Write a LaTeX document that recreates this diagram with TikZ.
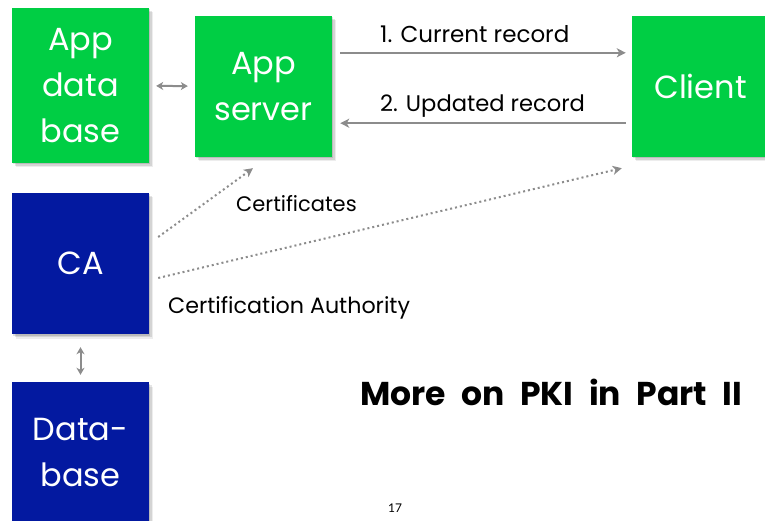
\documentclass[tikz,border=0pt]{standalone}
\usepackage{fontspec}
\setmainfont{Poppins}
\newfontfamily\gillfont{Lato}
\usetikzlibrary{arrows.meta,shadows}
\definecolor{boxgreen}{RGB}{0,206,68}
\definecolor{boxblue}{RGB}{3,25,160}
\definecolor{arrowgray}{RGB}{140,140,140}
\newcommand\mywidespace{\spaceskip=15.5pt\relax}
\tikzset{
  softshadow/.style={
    drop shadow={shadow xshift=1pt,shadow yshift=-1.5pt,fill=black,opacity=0.12},
    drop shadow={shadow xshift=2.5pt,shadow yshift=-3pt,fill=black,opacity=0.10},
    drop shadow={shadow xshift=4pt,shadow yshift=-4.5pt,fill=black,opacity=0.07}},
  box/.style={rectangle, inner sep=0pt, minimum width=137pt, text=white,
    align=center, font=\fontsize{32}{46}\selectfont, softshadow},
  gbox/.style={box, fill=boxgreen},
  bbox/.style={box, fill=boxblue},
  flow/.style={draw=arrowgray, line width=2pt, -{Stealth[length=9pt,width=9pt,inset=2.5pt]}},
  both/.style={draw=arrowgray, line width=2pt, {Stealth[length=7pt,width=8pt,inset=2pt]}-{Stealth[length=7pt,width=8pt,inset=2pt]}},
  cert/.style={draw=arrowgray, line width=2pt, dash pattern=on 2pt off 3pt, -{Stealth[length=9pt,width=9pt,inset=2.5pt]}},
  lbl/.style={inner sep=0pt, text=black, anchor=base west},
}
\begin{document}
\begin{tikzpicture}[x=1pt,y=-1pt]
\useasboundingbox (0,0) rectangle (765,521);
\fill[white] (0,0) rectangle (765,521);

\node[gbox, minimum height=155pt] (appdb) at (80.5,85.5) {App\\data\\base};
\node[gbox, minimum height=141pt] (appsrv) at (263.5,86.5) {App\\server};
\node[gbox, minimum height=141pt] (client) at (700.5,86.5) {Client};
\node[bbox, minimum height=141pt] (ca) at (80.5,263.5) {CA};
\node[bbox, minimum height=141pt] (db) at (80.5,452.5) {Data-\\base};

\draw[both, shorten <=7pt, shorten >=7pt] (appdb) -- (appsrv);
\draw[both, shorten <=13pt, shorten >=7pt] (ca) -- (db);

\draw[flow] ([yshift=-37pt,xshift=8pt]appsrv.north east) -- ([yshift=-37pt,xshift=-6pt]client.north west);
\draw[flow] ([yshift=34pt,xshift=-6pt]client.south west) -- ([yshift=34pt,xshift=8pt]appsrv.south east);

\draw[cert] ([shift={(9,-26.5)}]ca.east) -- ([shift={(-10.5,11)}]appsrv.south);
\draw[cert] ([shift={(9,14.5)}]ca.east) -- ([shift={(-10,11)}]client.south west);

\node[lbl, font=\fontsize{23}{27}\selectfont] (l1) at (380,43) {1. Current record};
\node[lbl, font=\fontsize{22.6}{27}\selectfont] (l2) at (380,112) {2. Updated record};
\node[lbl, font=\fontsize{21}{25}\selectfont] (lcert) at (236,212) {Certificates};
\node[lbl, font=\fontsize{22.2}{26}\selectfont] (lca) at (168,313) {Certification Authority};
\node[lbl, font=\bfseries\fontsize{33}{38}\selectfont\mywidespace] (more) at (360,405) {More on PKI in Part II};
\node[inner sep=0pt, anchor=base, font=\gillfont\fontsize{12}{14}\selectfont] (page) at (395,512) {17};
\end{tikzpicture}
\end{document}
